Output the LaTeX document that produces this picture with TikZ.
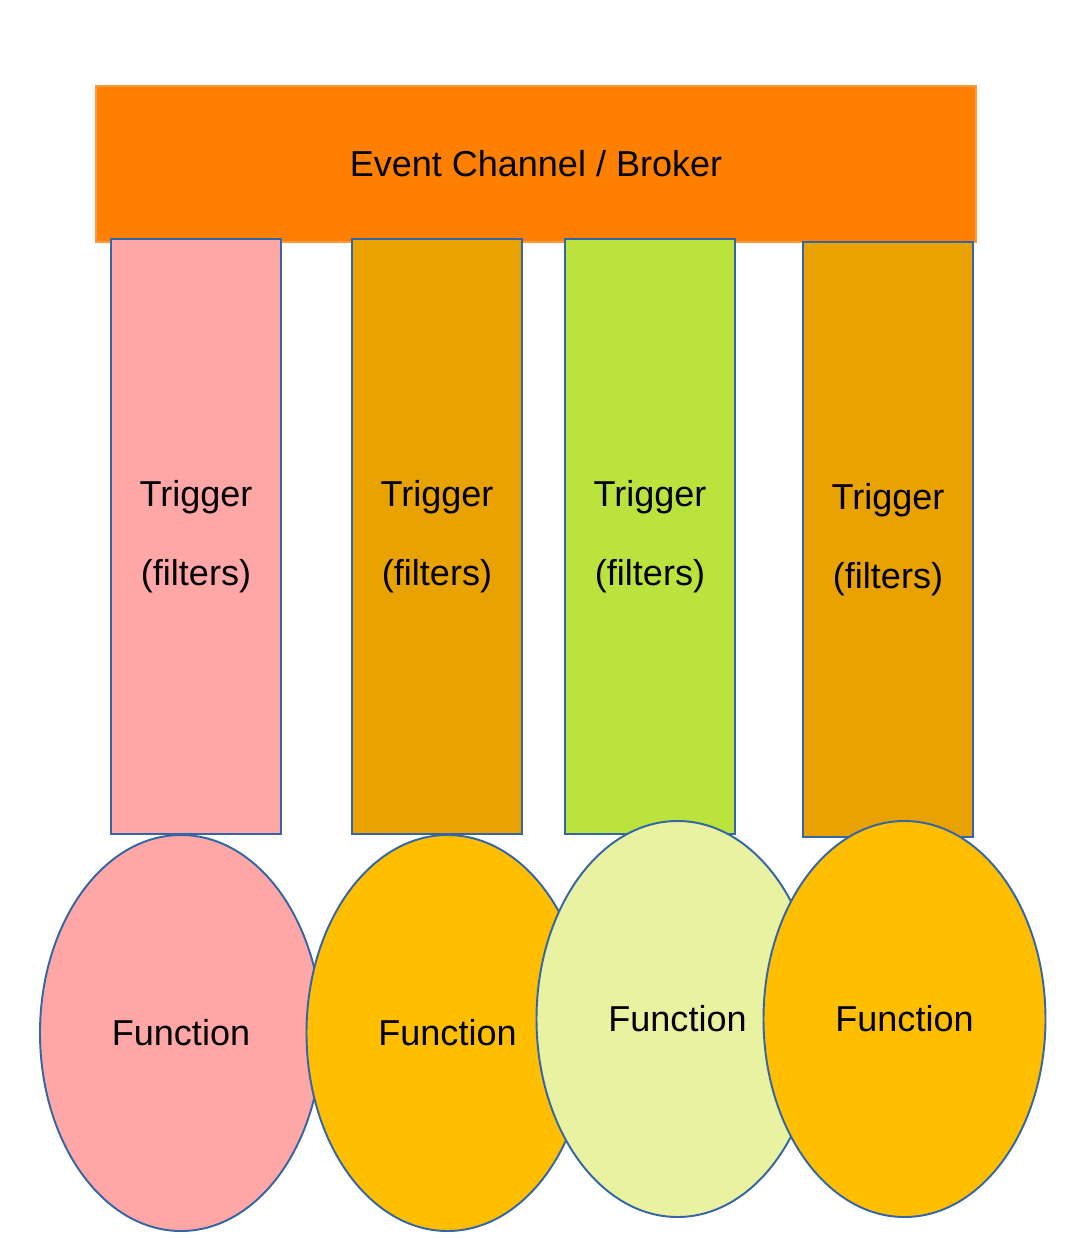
\documentclass[tikz,border=0pt]{standalone}
\usepackage{fontspec}
\setmainfont{Liberation Sans}
\usepackage{xcolor}
\usetikzlibrary{shapes.geometric}
\definecolor{brokerorange}{HTML}{FF8000}
\definecolor{brokeredge}{HTML}{FF9A3C}
\definecolor{edgeblue}{HTML}{3465A4}
\definecolor{rosepink}{HTML}{FFA6A6}
\definecolor{darkgold}{HTML}{E8A202}
\definecolor{limegreen}{HTML}{BBE33D}
\definecolor{paleyellow}{HTML}{E8F2A1}
\definecolor{gold}{HTML}{FFBF00}

\begin{document}
\begin{tikzpicture}[font=\fontsize{20.5}{24}\selectfont,
  trig/.style={draw=edgeblue,line width=1.1pt,minimum width=3.4cm,minimum height=11.9cm,
    inner sep=0pt,align=center,font=\fontsize{20.5}{45.3}\selectfont},
  func/.style={ellipse,draw=edgeblue,line width=1.1pt,minimum width=5.64cm,minimum height=7.92cm,inner sep=0pt}]
\useasboundingbox (0,0) rectangle (21.32,-25.08);
\node[fill=brokerorange,draw=brokeredge,line width=0.6pt,minimum width=17.6cm,minimum height=3.12cm,inner sep=0pt]
  (broker) at (10.72,-3.28) {Event Channel / Broker};
\node[trig,fill=rosepink]  (t1) at (3.92,-10.73) {Trigger\\(filters)};
\node[trig,fill=darkgold]  (t2) at (8.74,-10.73) {Trigger\\(filters)};
\node[trig,fill=limegreen] (t3) at (13.0,-10.73) {Trigger\\(filters)};
\node[trig,fill=darkgold]  (t4) at (17.76,-10.79) {Trigger\\(filters)};
\node[func,fill=rosepink]   (f1) at (3.62,-20.66) {Function};
\node[func,fill=gold]       (f2) at (8.95,-20.66) {Function};
\node[func,fill=paleyellow] (f3) at (13.55,-20.38) {Function};
\node[func,fill=gold]       (f4) at (18.09,-20.38) {Function};
\end{tikzpicture}
\end{document}
